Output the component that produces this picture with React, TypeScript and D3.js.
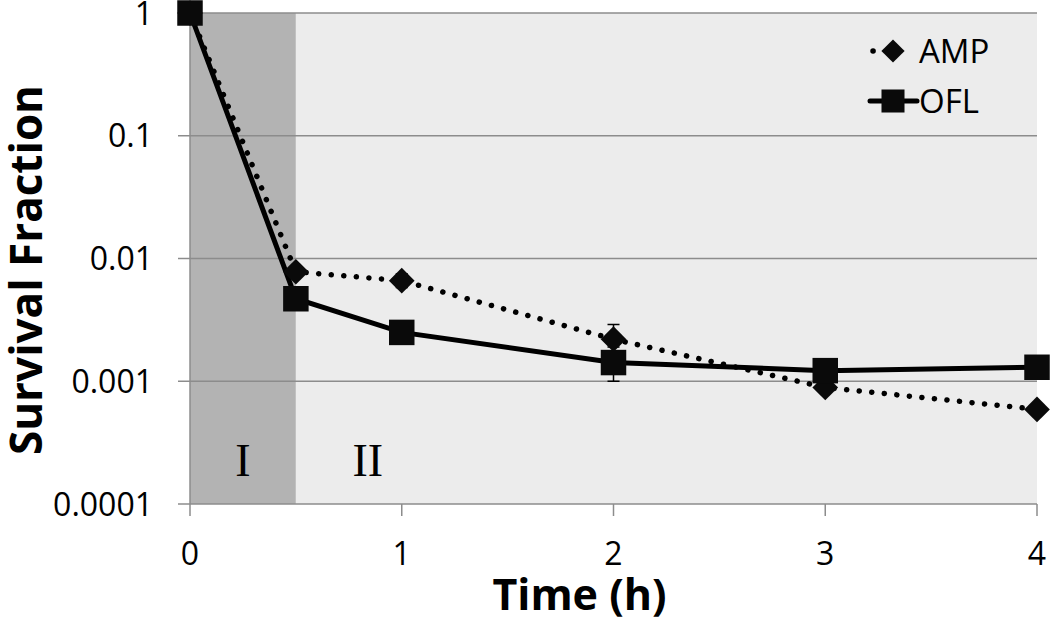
import React, { useEffect, useRef } from "react";
import * as d3 from "d3";

const times = [0, 0.5, 1, 2, 3, 4];
const ampValues = [1, 0.0078, 0.0066, 0.0022, 0.00089, 0.00059];
const oflValues = [1, 0.0047, 0.0025, 0.00142, 0.00122, 0.0013];
// error bar ends (low, high)
const ampErrLow = [1, 0.0078, 0.0058, 0.0017, 0.00089, 0.00059];
const ampErrHigh = [1, 0.0078, 0.0075, 0.0029, 0.00089, 0.00059];
const oflErrLow = [1, 0.0047, 0.0025, 0.001, 0.00122, 0.0013];
const oflErrHigh = [1, 0.0047, 0.0025, 0.0019, 0.00122, 0.0013];
const xTicks = [0, 1, 2, 3, 4];
const yTicks = [1, 0.1, 0.01, 0.001, 0.0001];
const yTickLabels = ["1", "0.1", "0.01", "0.001", "0.0001"];
const phases = [
  { label: "I", from: 0, to: 0.5, labelAt: 0.25, fill: "#b3b3b3" },
  { label: "II", from: 0.5, to: 4, labelAt: 0.84, fill: "#ececec" },
];

export default function App() {
  const svgRef = useRef<SVGSVGElement | null>(null);

  useEffect(() => {
    if (!svgRef.current) return;
    const svg = d3.select(svgRef.current);
    svg.selectAll("*").remove();

    const margin = { top: 13, right: 13, bottom: 120, left: 190 };
    const width = 1050 - margin.left - margin.right;
    const height = 624 - margin.top - margin.bottom;
    const font = "'Open Sans', 'Liberation Sans', sans-serif";

    const g = svg
      .append("g")
      .attr("transform", `translate(${margin.left},${margin.top})`);

    const x = d3.scaleLinear().domain([0, 4]).range([0, width]);
    const y = d3.scaleLog().domain([0.0001, 1]).range([height, 0]);

    // phase backgrounds
    phases.forEach((p) => {
      g.append("rect")
        .attr("x", x(p.from))
        .attr("y", 0)
        .attr("width", x(p.to) - x(p.from))
        .attr("height", height)
        .attr("fill", p.fill);
    });

    // gridlines
    yTicks.forEach((t) => {
      g.append("line")
        .attr("x1", 0)
        .attr("x2", width)
        .attr("y1", y(t))
        .attr("y2", y(t))
        .attr("stroke", "#8c8c8c")
        .attr("stroke-width", 1.5);
    });

    // axes
    g.append("line")
      .attr("x1", 0)
      .attr("x2", 0)
      .attr("y1", 0)
      .attr("y2", height)
      .attr("stroke", "#8c8c8c")
      .attr("stroke-width", 1.5);

    yTicks.forEach((t, i) => {
      g.append("line")
        .attr("x1", -12)
        .attr("x2", 0)
        .attr("y1", y(t))
        .attr("y2", y(t))
        .attr("stroke", "#8c8c8c")
        .attr("stroke-width", 1.5);
      g.append("text")
        .attr("x", -37)
        .attr("y", y(t))
        .attr("dy", "0.36em")
        .attr("text-anchor", "end")
        .attr("font-family", font)
        .attr("font-size", 32)
        .attr("fill", "#000")
        .text(yTickLabels[i]);
    });

    xTicks.forEach((t) => {
      g.append("line")
        .attr("x1", x(t))
        .attr("x2", x(t))
        .attr("y1", height)
        .attr("y2", height + 12)
        .attr("stroke", "#8c8c8c")
        .attr("stroke-width", 1.5);
      g.append("text")
        .attr("x", x(t))
        .attr("y", height + 61)
        .attr("text-anchor", "middle")
        .attr("font-family", font)
        .attr("font-size", 32)
        .attr("fill", "#000")
        .text(t);
    });

    // phase labels
    phases.forEach((p) => {
      g.append("text")
        .attr("x", x(p.labelAt))
        .attr("y", y(0.00017))
        .attr("text-anchor", "middle")
        .attr("font-family", "'Liberation Serif', 'DejaVu Serif', serif")
        .attr("font-size", 46)
        .attr("fill", "#000")
        .text(p.label);
    });

    // axis titles
    g.append("text")
      .attr("x", width / 2 - 34)
      .attr("y", height + 106)
      .attr("text-anchor", "middle")
      .attr("font-family", font)
      .attr("font-weight", "bold")
      .attr("font-size", 43)
      .text("Time (h)");

    g.append("text")
      .attr("transform", "rotate(-90)")
      .attr("x", -257)
      .attr("y", -148)
      .attr("text-anchor", "middle")
      .attr("font-family", font)
      .attr("font-weight", "bold")
      .attr("font-size", 44)
      .text("Survival Fraction");

    const line = d3
      .line<number>()
      .x((_, i) => x(times[i]))
      .y((d) => y(d));

    // AMP dotted
    g.append("path")
      .datum(ampValues)
      .attr("fill", "none")
      .attr("stroke", "#000")
      .attr("stroke-width", 5.5)
      .attr("stroke-linecap", "round")
      .attr("stroke-dasharray", "0.1 12.5")
      .attr("d", line);

    // OFL solid
    g.append("path")
      .datum(oflValues)
      .attr("fill", "none")
      .attr("stroke", "#000")
      .attr("stroke-width", 5)
      .attr("d", line);

    // error bars
    const drawErr = (lo: number[], hi: number[]) => {
      times.forEach((t, i) => {
        if (lo[i] === hi[i]) return;
        const cx = x(t);
        g.append("line")
          .attr("x1", cx).attr("x2", cx)
          .attr("y1", y(lo[i])).attr("y2", y(hi[i]))
          .attr("stroke", "#000").attr("stroke-width", 1.5);
        [lo[i], hi[i]].forEach((v) => {
          g.append("line")
            .attr("x1", cx - 6).attr("x2", cx + 6)
            .attr("y1", y(v)).attr("y2", y(v))
            .attr("stroke", "#000").attr("stroke-width", 1.5);
        });
      });
    };
    drawErr(ampErrLow, ampErrHigh);
    drawErr(oflErrLow, oflErrHigh);

    const diamond = d3.symbol().type(d3.symbolSquare).size(330);
    const square = d3.symbol().type(d3.symbolSquare).size(650);

    ampValues.forEach((v, i) => {
      g.append("path")
        .attr("d", diamond()!)
        .attr("transform", `translate(${x(times[i])},${y(v)}) rotate(45)`)
        .attr("fill", "#0a0a0a");
    });
    oflValues.forEach((v, i) => {
      g.append("path")
        .attr("d", square()!)
        .attr("transform", `translate(${x(times[i])},${y(v)})`)
        .attr("fill", "#0a0a0a");
    });

    // legend
    const legendDiamond = d3.symbol().type(d3.symbolSquare).size(270);
    const legendSquare = d3.symbol().type(d3.symbolSquare).size(530);
    const lg = svg.append("g").attr("transform", "translate(870,0)");
    lg.append("line")
      .attr("x1", 3).attr("x2", 42)
      .attr("y1", 51).attr("y2", 51)
      .attr("stroke", "#000").attr("stroke-width", 5.5)
      .attr("stroke-linecap", "round").attr("stroke-dasharray", "0.1 19.5");
    lg.append("path")
      .attr("d", legendDiamond()!)
      .attr("transform", "translate(23,51) rotate(45)")
      .attr("fill", "#0a0a0a");
    lg.append("text")
      .attr("x", 49).attr("y", 51).attr("dy", "0.36em")
      .attr("font-family", font).attr("font-size", 33)
      .text("AMP");
    lg.append("line")
      .attr("x1", 0).attr("x2", 47)
      .attr("y1", 101).attr("y2", 101)
      .attr("stroke", "#000").attr("stroke-width", 5)
      .attr("stroke-linecap", "round");
    lg.append("path")
      .attr("d", legendSquare()!)
      .attr("transform", "translate(23,101)")
      .attr("fill", "#0a0a0a");
    lg.append("text")
      .attr("x", 49).attr("y", 101).attr("dy", "0.36em")
      .attr("font-family", font).attr("font-size", 33)
      .text("OFL");
  }, []);

  return (
    <svg
      ref={svgRef}
      width={1050}
      height={624}
      style={{ position: "absolute", left: 0, top: 0, background: "#fff" }}
    />
  );
}
